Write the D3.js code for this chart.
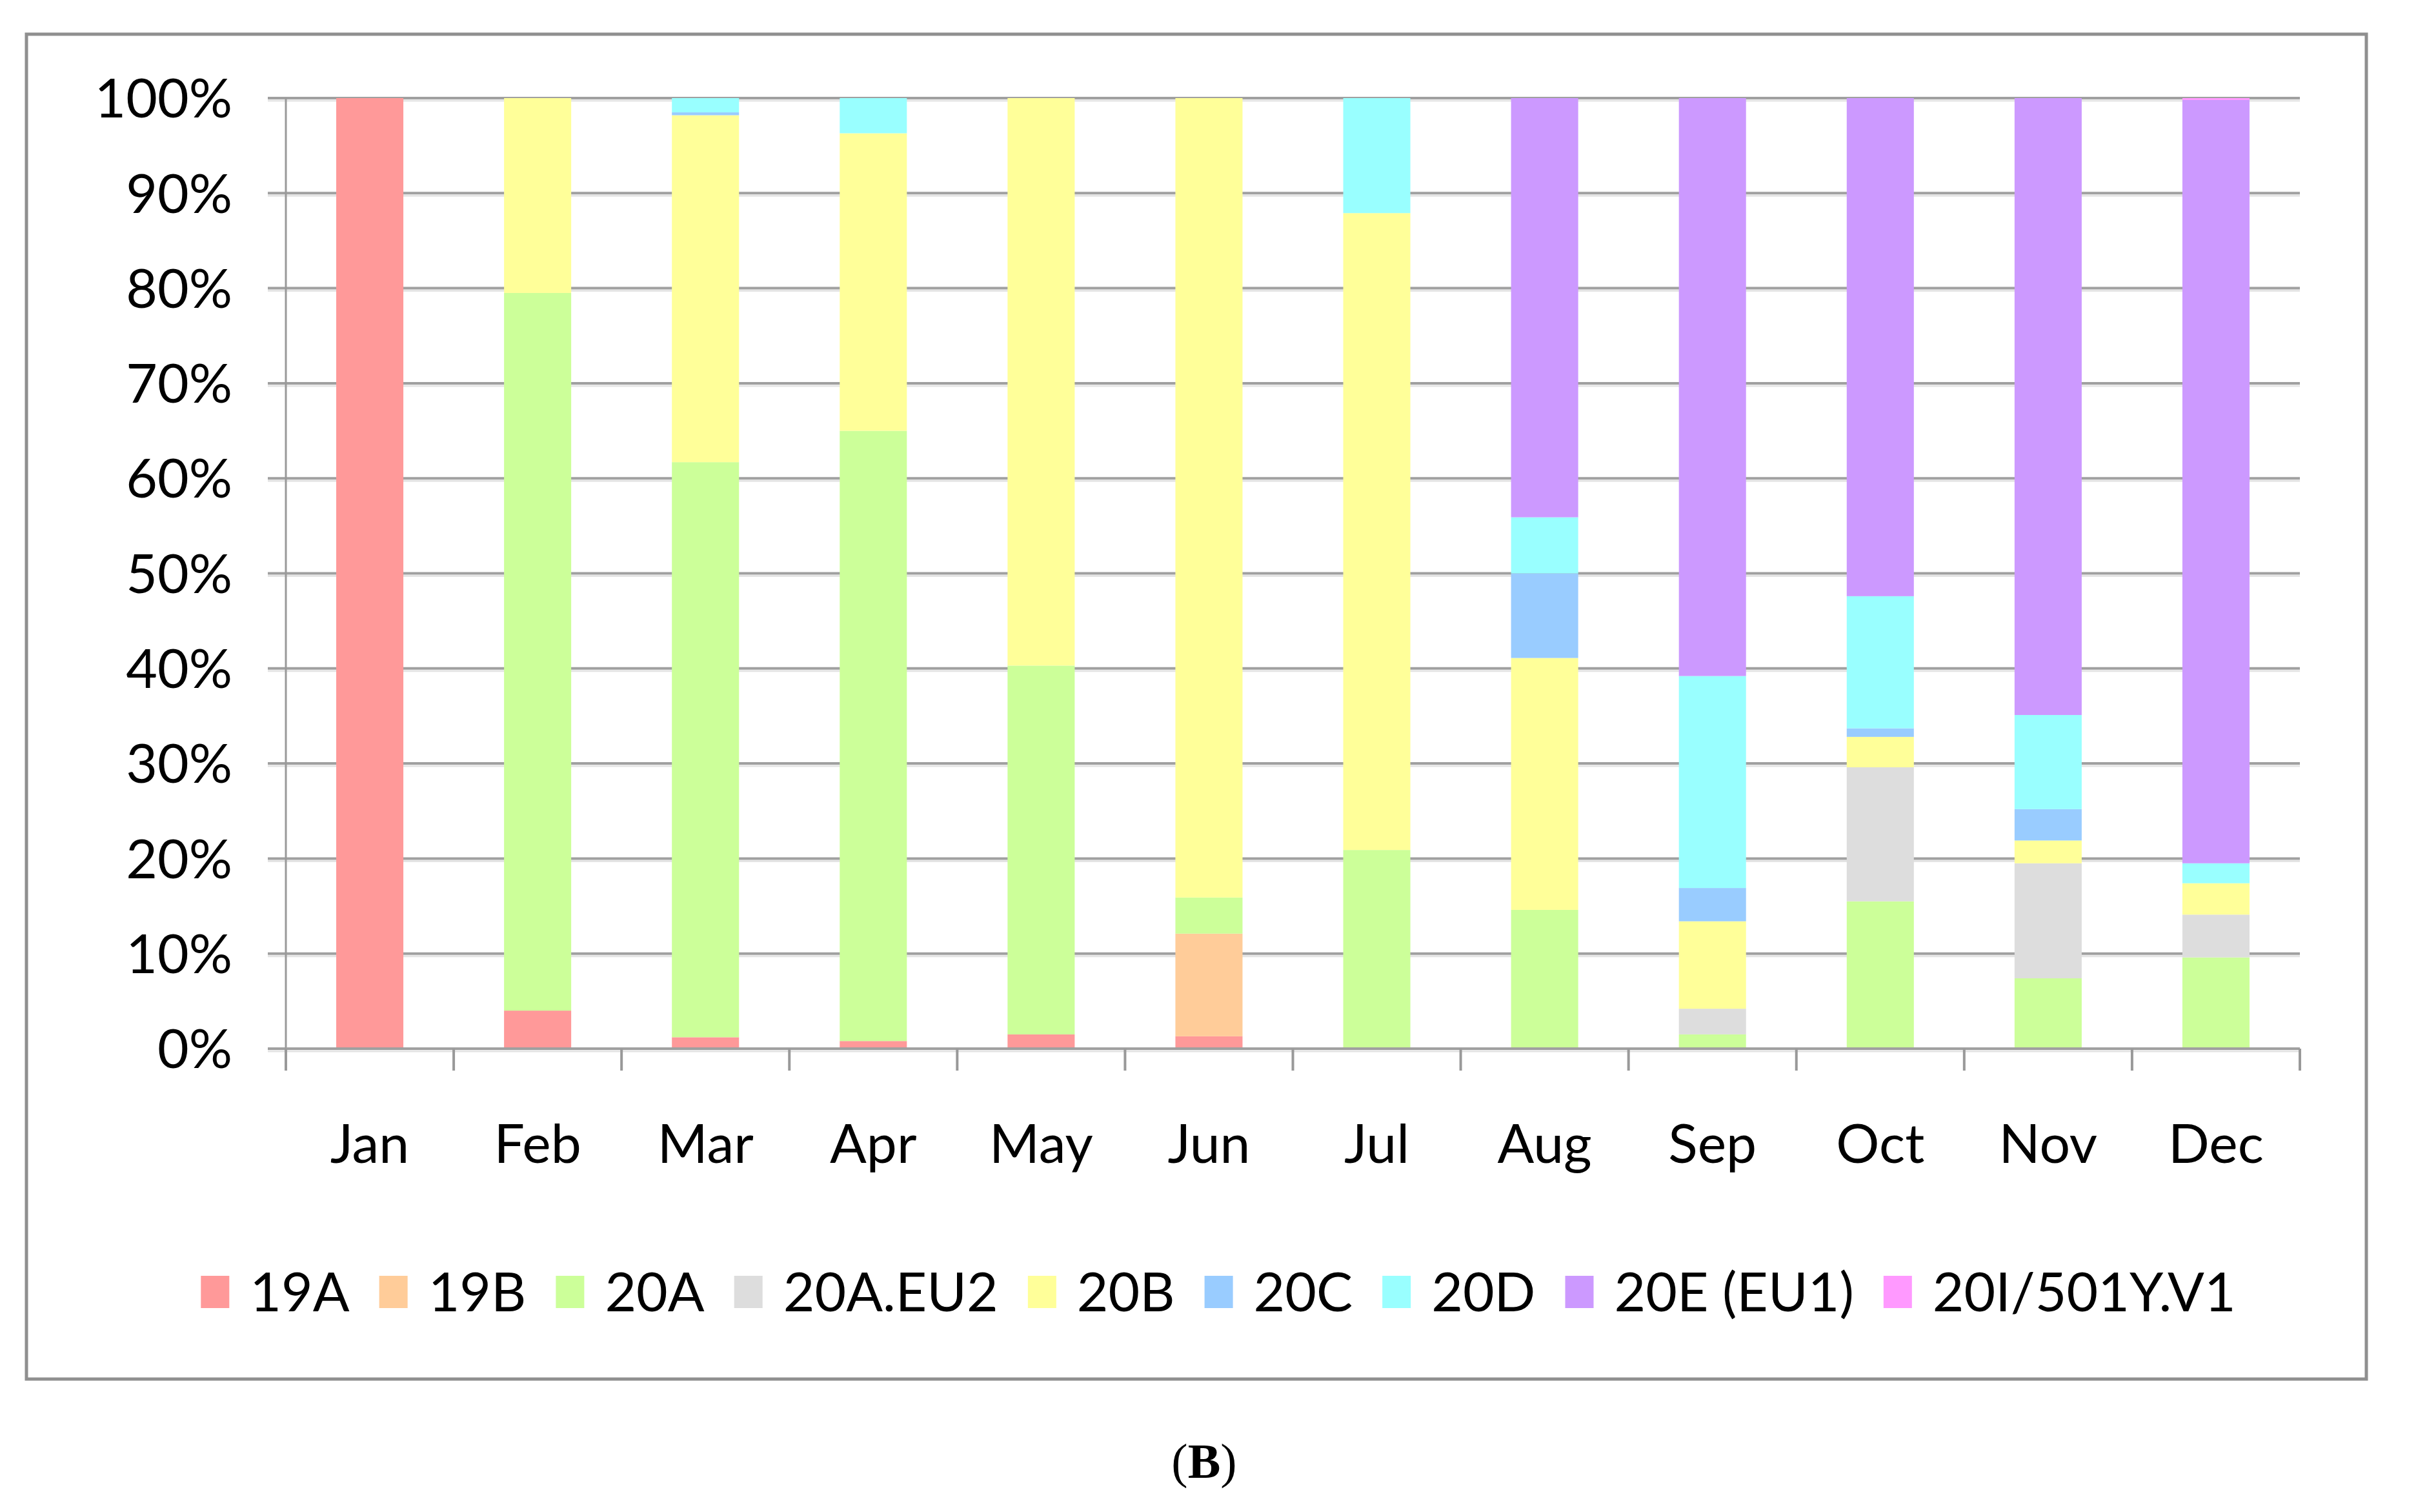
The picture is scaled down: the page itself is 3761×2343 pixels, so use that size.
<!DOCTYPE html>
<html>
<head>
<meta charset="utf-8">
<script src="https://cdn.jsdelivr.net/npm/d3@7/dist/d3.min.js"></script>
<style>
  html, body { margin: 0; padding: 0; background: #fff; }
  svg { display: block; }
  text { font-family: Lato, "Open Sans", sans-serif; fill: #000; }
</style>
</head>
<body>
<svg id="chart" width="3761" height="2343"></svg>
<script>
// ---- data ----
const months = ["Jan","Feb","Mar","Apr","May","Jun","Jul","Aug","Sep","Oct","Nov","Dec"];
const clades = ["19A","19B","20A","20A.EU2","20B","20C","20D","20E (EU1)","20I/501Y.V1"];
const colors = ["#FF9999","#FFCC99","#CCFF99","#DDDDDD","#FFFF99","#99CCFF","#99FFFF","#CC99FF","#FF99FF"];
const s19A   = [100, 4.0, 1.2, 0.8, 1.5, 1.3, 0, 0, 0, 0, 0, 0];
const s19B   = [0, 0, 0, 0, 0, 10.8, 0, 0, 0, 0, 0, 0];
const s20A   = [0, 75.5, 60.5, 64.2, 38.8, 3.8, 20.9, 14.6, 1.5, 15.5, 7.4, 9.6];
const s20AEU2= [0, 0, 0, 0, 0, 0, 0, 0, 2.7, 14.1, 12.1, 4.5];
const s20B   = [0, 20.5, 36.5, 31.3, 59.7, 84.1, 67.0, 26.5, 9.2, 3.2, 2.4, 3.3];
const s20C   = [0, 0, 0.3, 0, 0, 0, 0, 8.9, 3.5, 0.9, 3.3, 0];
const s20D   = [0, 0, 1.5, 3.7, 0, 0, 12.1, 5.9, 22.3, 13.9, 9.9, 2.1];
const s20E   = [0, 0, 0, 0, 0, 0, 0, 44.1, 60.8, 52.4, 64.9, 80.3];
const s20I   = [0, 0, 0, 0, 0, 0, 0, 0, 0, 0, 0, 0.2];
const yTicks = [0,10,20,30,40,50,60,70,80,90,100];
const seriesValues = [s19A, s19B, s20A, s20AEU2, s20B, s20C, s20D, s20E, s20I];

// ---- build table ----
const table = months.map((m, i) => {
  const row = { month: m };
  clades.forEach((c, j) => row[c] = seriesValues[j][i]);
  return row;
});

const svg = d3.select("#chart");
const L = 443, R = 3564, T = 152, B = 1625;
const FS = 84;

// frame
svg.append("rect").attr("x", 41).attr("y", 53).attr("width", 3626).attr("height", 2084)
  .attr("fill", "#fff").attr("stroke", "#8f8f8f").attr("stroke-width", 5);

const x = d3.scaleBand().domain(months).range([L, R]).paddingInner(0.6).paddingOuter(0.3);
const y = d3.scaleLinear().domain([0, 100]).range([B, T]);

// gridlines (with soft shadow)
const grid = svg.append("g");
grid.selectAll("line.sh").data(yTicks).join("line")
  .attr("x1", L - 28).attr("x2", R).attr("y1", d => y(d) + 4).attr("y2", d => y(d) + 4)
  .attr("stroke", "#e4e4e4").attr("stroke-width", 3);
grid.selectAll("line.g").data(yTicks).join("line")
  .attr("x1", L - 28).attr("x2", R).attr("y1", d => y(d)).attr("y2", d => y(d))
  .attr("stroke", "#a0a0a0").attr("stroke-width", 4);

// y axis line
svg.append("line").attr("x1", L).attr("x2", L).attr("y1", T).attr("y2", B + 34)
  .attr("stroke", "#999").attr("stroke-width", 3);

// stacked bars
const stack = d3.stack().keys(clades);
const stacked = stack(table);
svg.append("g").selectAll("g").data(stacked).join("g")
  .attr("fill", (d, i) => colors[i])
  .selectAll("rect").data(d => d).join("rect")
  .attr("x", d => x(d.data.month))
  .attr("width", x.bandwidth())
  .attr("y", d => y(d[1]))
  .attr("height", d => Math.max(0, y(d[0]) - y(d[1])));

// x axis baseline and ticks between categories
svg.append("line").attr("x1", L).attr("x2", R).attr("y1", B).attr("y2", B)
  .attr("stroke", "#a0a0a0").attr("stroke-width", 4);
const tickPos = d3.range(months.length + 1).map(i => x.range()[0] + i * x.step());
svg.append("g").selectAll("line").data(tickPos).join("line")
  .attr("x1", d => d).attr("x2", d => d).attr("y1", B).attr("y2", B + 34)
  .attr("stroke", "#999").attr("stroke-width", 4);

// y labels
svg.append("g").selectAll("text").data(yTicks).join("text")
  .attr("x", 360).attr("y", d => y(d)).attr("dy", "0.36em")
  .attr("text-anchor", "end").attr("font-size", FS)
  .attr("fill", "#1e1e1e")
  .text(d => d + "%");

// x labels
svg.append("g").selectAll("text").data(months).join("text")
  .attr("x", d => x(d) + x.bandwidth() / 2).attr("y", 1802)
  .attr("text-anchor", "middle").attr("font-size", FS)
  .attr("fill", "#1e1e1e")
  .text(d => d);

// legend
const lg = svg.append("g");
let lx = 0;
const GAP = 46;
clades.forEach((c, i) => {
  const g = lg.append("g").attr("transform", `translate(${lx},0)`);
  g.append("rect").attr("x", 0).attr("y", -55).attr("width", 44).attr("height", 50).attr("fill", colors[i]);
  const t = g.append("text").attr("x", 76).attr("y", 0).attr("font-size", FS).attr("fill", "#1e1e1e").text(c);
  const w = t.node().getComputedTextLength();
  lx += 76 + w + GAP;
});
const totalW = lx - GAP;
lg.attr("transform", `translate(${1888 - totalW / 2},2032)`);

// caption
const cap = svg.append("text").attr("x", 1866).attr("y", 2290).attr("text-anchor", "middle")
  .attr("font-size", 76).style("font-family", "'Liberation Serif', 'DejaVu Serif', serif");
cap.append("tspan").text("(");
cap.append("tspan").attr("font-weight", "bold").text("B");
cap.append("tspan").text(")");
</script>
</body>
</html>
